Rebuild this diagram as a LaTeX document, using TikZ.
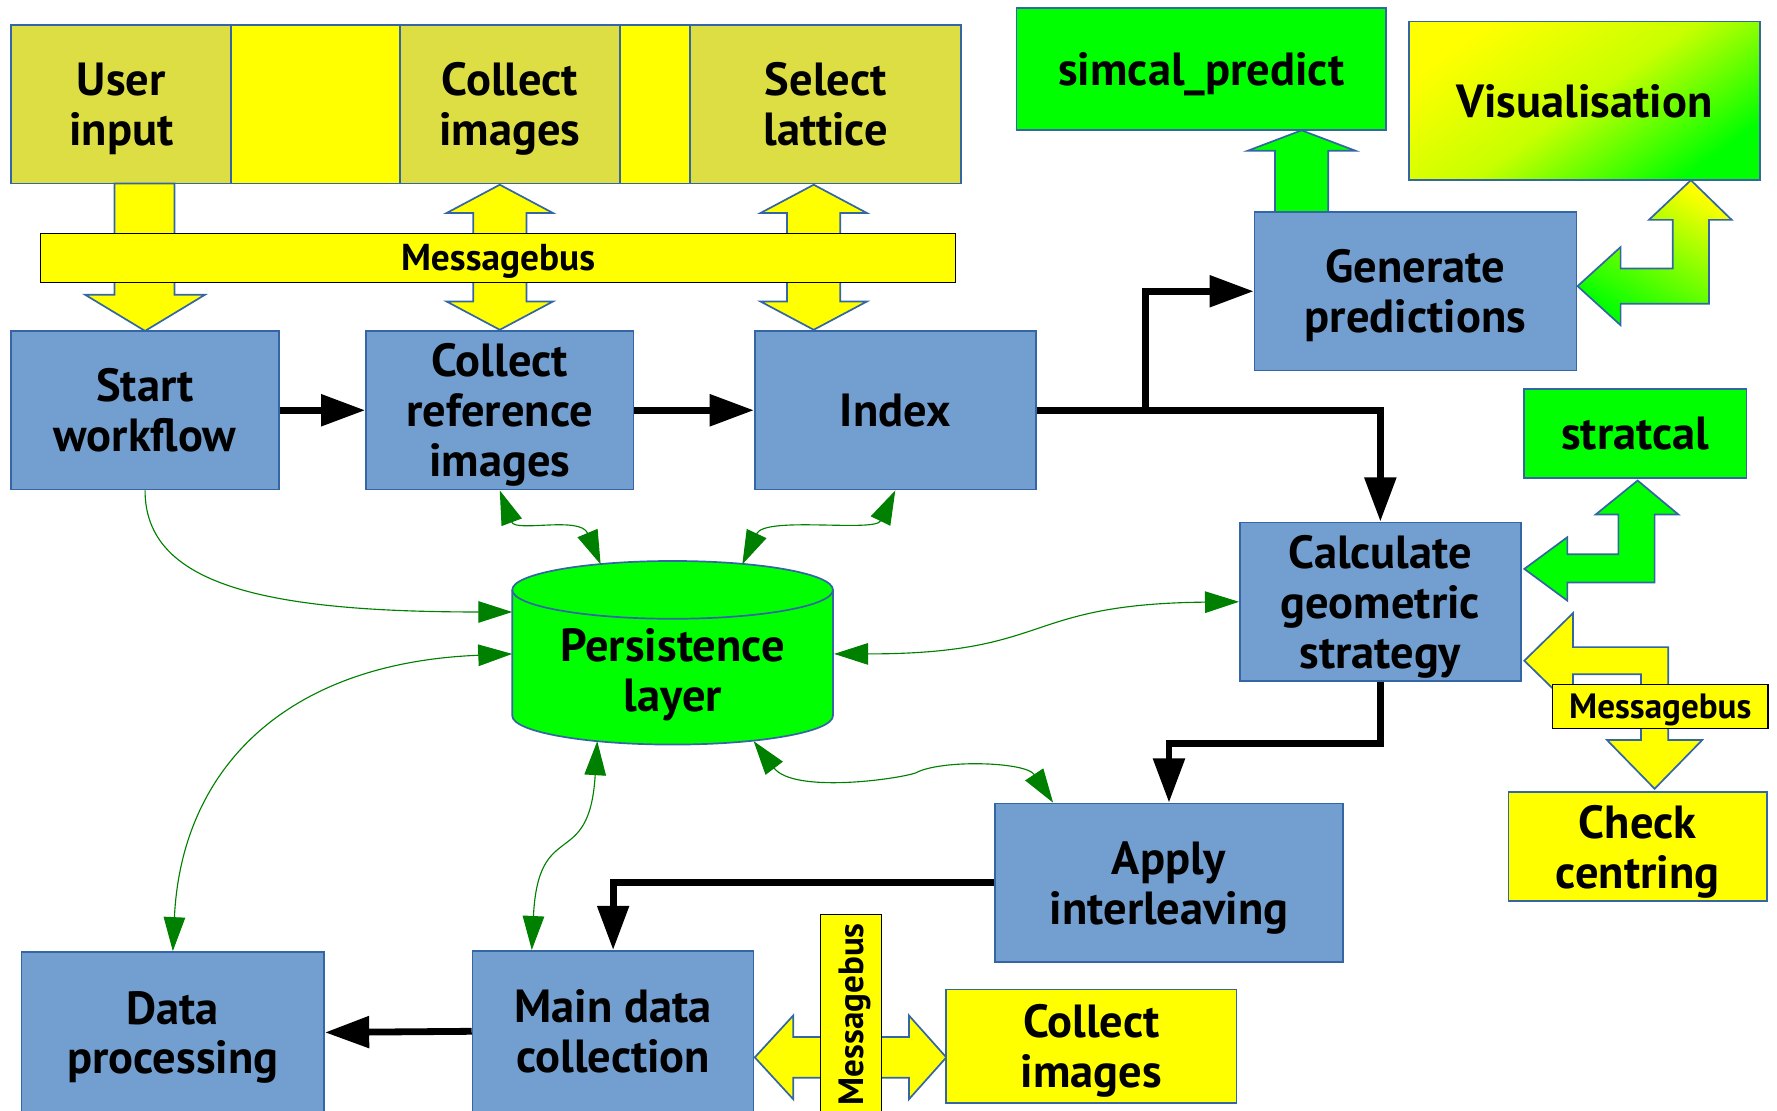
\documentclass[tikz,border=0pt]{standalone}
\usepackage{fontspec}
\setmainfont{PT Sans}
\usetikzlibrary{arrows.meta,calc}
\definecolor{boxblue}{HTML}{729FCF}
\definecolor{bordblue}{HTML}{3465A4}
\definecolor{topolive}{RGB}{221,221,68}
\definecolor{pgreen}{RGB}{0,255,0}
\definecolor{dgreen}{RGB}{0,128,0}
\definecolor{pyellow}{RGB}{255,255,0}
\newcommand\mybig{\bfseries\fontsize{41}{44}\selectfont}
\newcommand\mybus{\bfseries\fontsize{33}{36}\selectfont}
\newcommand\mysmall{\bfseries\fontsize{31}{34}\selectfont}
\begin{document}
\begin{tikzpicture}[x=1pt,y=-1pt,
  bx/.style={draw=bordblue,line width=1.5pt,inner sep=0pt,align=center,font=\mybig,text depth=0pt},
  bluebox/.style={bx,fill=boxblue},
  olivebox/.style={bx,fill=topolive},
  ybox/.style={bx,fill=pyellow},
  gbox/.style={bx,fill=pgreen},
  busbox/.style={draw=black,line width=1.2pt,fill=pyellow,inner sep=0pt,font=\mysmall,text depth=0pt},
  blockarrow/.style={draw=bordblue,line width=1.5pt,line join=miter},
  blk/.style={line width=6pt,-{Triangle[length=39pt,width=27pt]}},
  garr/.style={color=dgreen,line width=1pt,{Triangle[length=30pt,width=19pt]}-{Triangle[length=30pt,width=19pt]}},
  garrone/.style={color=dgreen,line width=1pt,-{Triangle[length=30pt,width=19pt]}}
]
\useasboundingbox (0,0) rectangle (1568,979.5);

% ---------- top bar ----------
\node[olivebox,minimum width=194pt,minimum height=140pt] (ui) at (107,92) {User\\input};
\node[ybox,minimum width=149pt,minimum height=140pt] (y1) at (278.5,92) {};
\node[olivebox,minimum width=194pt,minimum height=140pt] (ci) at (450,92) {Collect\\images};
\node[ybox,minimum width=62pt,minimum height=140pt] (y2) at (578,92) {};
\node[olivebox,minimum width=239pt,minimum height=140pt] (sl) at (728.5,92) {Select\\lattice};

% block arrows through the message bus
\path[blockarrow,fill=pyellow] (101,162) -- (154,162) -- (154,260) -- (181,260) -- (128,292) -- (75,260) -- (101,260) -- cycle;
\path[blockarrow,fill=pyellow] (441,163) -- (488,188) -- (464.5,188) -- (464.5,266) -- (488,266) -- (441,291) -- (394,266) -- (417.5,266) -- (417.5,188) -- (394,188) -- cycle;
\path[blockarrow,fill=pyellow] (718,163) -- (765,188) -- (741.5,188) -- (741.5,266) -- (765,266) -- (718,291) -- (671,266) -- (694.5,266) -- (694.5,188) -- (671,188) -- cycle;
\node[busbox,font=\mybus,minimum width=807pt,minimum height=43pt] (bus1) at (439.5,227.5) {Messagebus};

% ---------- main row ----------
\node[bluebox,minimum width=236pt,minimum height=140pt] (start) at (128,362) {Start\\workflow};
\node[bluebox,minimum width=236pt,minimum height=140pt] (cref) at (441,362) {Collect\\reference\\images};
\node[bluebox,minimum width=248pt,minimum height=140pt] (index) at (790,362) {Index};

% ---------- right side ----------
\path[blockarrow,fill=pgreen] (1125,187) -- (1125,133) -- (1101,133) -- (1148.5,115) -- (1196,133) -- (1172,133) -- (1172,187) -- cycle;
\node[gbox,minimum width=326pt,minimum height=108pt] (simcal) at (1060,61) {simcal\_predict};
\node[bx,top color=pyellow,bottom color=pgreen,middle color={rgb,255:red,200;green,255;blue,0},shading angle=35,minimum width=310pt,minimum height=140pt] (vis) at (1398,89) {Visualisation};
\path[blockarrow,top color=pyellow,bottom color=pgreen,shading angle=-30] (1492,159) -- (1528,194) -- (1508,194) -- (1508,268) -- (1430,268) -- (1430,287) -- (1392,252.5) -- (1430,218) -- (1430,237) -- (1476,237) -- (1476,194) -- (1455,194) -- cycle;
\node[bluebox,minimum width=284pt,minimum height=140pt] (gen) at (1249,257) {Generate\\predictions};

\node[gbox,minimum width=196pt,minimum height=79pt] (stratcal) at (1443,382.5) {stratcal};
\path[blockarrow,fill=pgreen] (1445,424) -- (1481,454) -- (1460,454) -- (1460,514) -- (1383,514) -- (1383,530) -- (1345,502) -- (1383,474) -- (1383,489) -- (1428,489) -- (1428,454) -- (1408,454) -- cycle;
\node[bluebox,minimum width=248pt,minimum height=140pt] (calc) at (1218,531) {Calculate\\geometric\\strategy};

\path[blockarrow,fill=pyellow] (1345,583) -- (1388,541) -- (1388,571) -- (1472,571) -- (1472,653) -- (1502,653) -- (1460,696) -- (1418,653) -- (1448,653) -- (1448,595) -- (1388,595) -- (1388,625) -- cycle;
\node[busbox,minimum width=190pt,minimum height=39pt] (bus2) at (1465,623.5) {Messagebus};
\node[ybox,minimum width=228pt,minimum height=96pt] (check) at (1445,747) {Check\\centring};

% ---------- persistence layer ----------
\path[draw=bordblue,line width=1.5pt,fill=pgreen]
  (452,520.5) -- (452,631.5)
  arc[start angle=180,end angle=360,x radius=141.5pt,y radius=25.5pt]
  -- (735,520.5)
  arc[start angle=0,end angle=180,x radius=141.5pt,y radius=25.5pt] -- cycle;
\draw[bordblue,line width=1.5pt] (452,520.5) arc[start angle=180,end angle=360,x radius=141.5pt,y radius=25.5pt];
\node[align=center,font=\mybig,inner sep=0pt,text depth=0pt] (pers) at (593.5,591) {Persistence\\layer};

% ---------- bottom ----------
\node[bluebox,minimum width=307pt,minimum height=140pt] (apply) at (1031.5,779) {Apply\\interleaving};
\node[bluebox,minimum width=248pt,minimum height=142pt] (main) at (541,910) {Main data\\collection};
\node[bluebox,minimum width=267pt,minimum height=142pt] (data) at (152.5,911) {Data\\processing};
\path[blockarrow,fill=pyellow] (666,933) -- (700,896) -- (700,915) -- (802,915) -- (802,896) -- (835,933) -- (802,970) -- (802,951) -- (700,951) -- (700,970) -- cycle;
\node[busbox,rotate=90,minimum width=176pt,minimum height=54pt] (bus3) at (751,895) {Messagebus};
\node[ybox,minimum width=256pt,minimum height=100pt] (cimg) at (963,923) {Collect\\images};

% ---------- black flow arrows ----------
\coordinate (split) at (1011,362);
\draw[blk] (start.east) -- (cref.west);
\draw[blk] (cref.east) -- (index.west);
\draw[line width=6pt] (index.east) -- (split);
\draw[blk] (split) |- (gen.west);
\draw[blk] (split) -| (calc.north);
\draw[blk] (calc.south) -- ++(0,54) -| (apply.north);
\draw[blk] (apply.west) -| (main.north);
\draw[blk] (main.west) -- (data.east);

% ---------- green persistence links ----------
\coordinate (pA) at (452,540);
\coordinate (pB) at (452,577);
\coordinate (pC) at (530,498);
\coordinate (pD) at (655,498);
\coordinate (pE) at (736,577);
\coordinate (pF) at (527,654);
\coordinate (pG) at (665,654);
\coordinate (mainN) at ($(main.north west)+(53,0)$);
\coordinate (applyN) at ($(apply.north west)+(52,0)$);
\draw[garrone] (start.south) .. controls (128,515) and (230,540) .. (pA);
\draw[garr] (cref.south) .. controls (455,470) and (512,455) .. (pC);
\draw[garr] (index.south) .. controls (772,470) and (675,455) .. (pD);
\draw[garr] (pB) .. controls (250,585) and (160,680) .. (data.north);
\draw[garr] (pE) .. controls (930,577) and (900,533) .. (calc.west);
\draw[garr] (pF) .. controls (520,770) and (475,720) .. (mainN);
\draw[garr] (pG) .. controls (700,700) and (790,688) .. (808,682) .. controls (830,670) and (905,672) .. (applyN);
\end{tikzpicture}
\end{document}
